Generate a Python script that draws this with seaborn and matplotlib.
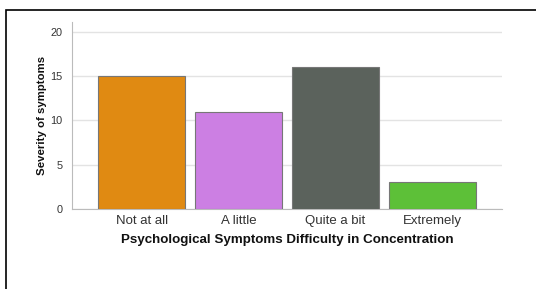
import pandas as pd
import seaborn as sns
import matplotlib.pyplot as plt
from matplotlib.patches import Rectangle

categories = ['Not at all', 'A little', 'Quite a bit', 'Extremely']
severity = [15, 11, 16, 3]
bar_colors = ['#E08A12', '#CC7FE3', '#5B625C', '#5DC038']

df = pd.DataFrame({'category': categories, 'severity': severity})

sns.set_style('white')
plt.rcParams['font.family'] = ['Liberation Sans', 'DejaVu Sans']

fig = plt.figure(figsize=(5.36, 2.89), dpi=100)
ax = fig.add_axes([72 / 536, 1 - 209 / 289, 430 / 536, 187 / 289])

sns.barplot(data=df, x='category', y='severity', hue='category',
            palette=bar_colors, legend=False, width=0.9,
            edgecolor='#777777', linewidth=0.8, saturation=1, ax=ax, zorder=3)

ax.set_ylim(0, 21.1)
ax.set_xlim(-0.72, 3.72)
ax.set_yticks([0, 5, 10, 15, 20])
ax.yaxis.grid(True, color='#E3E3E3', linewidth=1, zorder=0)
ax.set_axisbelow(True)
for side in ['top', 'right']:
    ax.spines[side].set_visible(False)
for side in ['left', 'bottom']:
    ax.spines[side].set_color('#BBBBBB')
    ax.spines[side].set_linewidth(0.8)
ax.tick_params(axis='both', length=0, colors='#333333')
ax.tick_params(axis='x', labelsize=9.5, pad=4)
ax.tick_params(axis='y', labelsize=7.8, pad=7)

ax.set_xlabel('Psychological Symptoms Difficulty in Concentration',
              fontsize=9.6, fontweight='bold', labelpad=5, color='#111111')
ax.set_ylabel('Severity of symptoms', fontsize=8.2, fontweight='bold',
              labelpad=2, color='#111111')

# outer frame around the figure
fig.patches.append(Rectangle((6 / 536, -0.1), 1.1, 1 - 10 / 289 + 0.1,
                             transform=fig.transFigure, fill=False,
                             edgecolor='black', linewidth=1.2))

fig.savefig('out.png', dpi=100)
